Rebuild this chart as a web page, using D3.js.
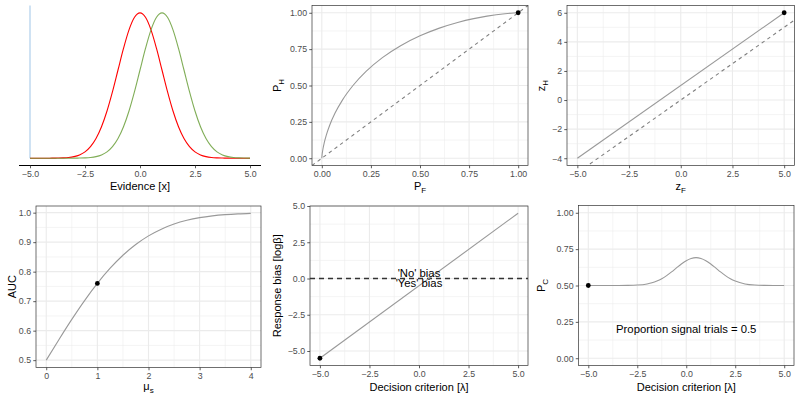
<!DOCTYPE html>
<html>
<head>
<meta charset="utf-8">
<script src="https://cdn.jsdelivr.net/npm/d3@7"></script>
<style>
body { margin: 0; background: #fff; }
text { font-family: "Liberation Sans", Arial, sans-serif; }
</style>
</head>
<body>
<script>
// ---- data ----
var criterion = -5;

var evidence = [-5, -4.75, -4.5, -4.25, -4, -3.75, -3.5, -3.25, -3, -2.75, -2.5, -2.25, -2, -1.75, -1.5, -1.25, -1,
    -0.75, -0.5, -0.25, 0, 0.25, 0.5, 0.75, 1, 1.25, 1.5, 1.75, 2, 2.25, 2.5, 2.75, 3, 3.25, 3.5, 3.75, 4, 4.25, 4.5, 4.75, 5];
var noiseDensity = [0, 0, 0, 0, 0.0001, 0.0004, 0.0009, 0.0020, 0.0044, 0.0091, 0.0175, 0.0317, 0.0540, 0.0863, 0.1295,
    0.1826, 0.2420, 0.3011, 0.3521, 0.3867, 0.3989, 0.3867, 0.3521, 0.3011, 0.2420, 0.1826, 0.1295, 0.0863, 0.0540,
    0.0317, 0.0175, 0.0091, 0.0044, 0.0020, 0.0009, 0.0004, 0.0001, 0, 0, 0, 0];
var signalDensity = [0, 0, 0, 0, 0, 0, 0, 0, 0.0001, 0.0004, 0.0009, 0.0020, 0.0044, 0.0091, 0.0175, 0.0317, 0.0540,
    0.0863, 0.1295, 0.1826, 0.2420, 0.3011, 0.3521, 0.3867, 0.3989, 0.3867, 0.3521, 0.3011, 0.2420, 0.1826, 0.1295,
    0.0863, 0.0540, 0.0317, 0.0175, 0.0091, 0.0044, 0.0020, 0.0009, 0.0004, 0.0001];

var rocFalseAlarm = [0, 0.00003, 0.0002, 0.0006, 0.0013, 0.0030, 0.0062, 0.0122, 0.0228, 0.0401, 0.0668, 0.1056, 0.1587,
    0.2266, 0.3085, 0.4013, 0.5000, 0.5987, 0.6915, 0.7734, 0.8413, 0.9332, 0.9772, 0.9938, 0.9987, 1];
var rocHit = [0, 0.0013, 0.0062, 0.0122, 0.0228, 0.0401, 0.0668, 0.1056, 0.1587, 0.2266, 0.3085, 0.4013, 0.5000,
    0.5987, 0.6915, 0.7734, 0.8413, 0.8944, 0.9332, 0.9599, 0.9772, 0.9938, 0.9987, 0.9998, 1.0000, 1];
var rocPoint = [1, 1];

var zFalseAlarm = [-5, 5];
var zHit = [-4, 6];
var zPoint = [5, 6];

var muS = [0, 0.25, 0.5, 0.75, 1, 1.25, 1.5, 1.75, 2, 2.25, 2.5, 2.75, 3, 3.25, 3.5, 3.75, 4];
var auc = [0.5, 0.5702, 0.6382, 0.7020, 0.7602, 0.8116, 0.8556, 0.8920, 0.9214, 0.9442, 0.9615, 0.9741, 0.9831,
    0.9892, 0.9933, 0.9960, 0.9977];
var aucPoint = [1, 0.7602];

var biasCriterion = [-5, 5];
var logBeta = [-5.5, 4.5];
var biasPoint = [-5, -5.5];

var pcCriterion = [-5, -4.5, -4, -3.5, -3, -2.5, -2, -1.75, -1.5, -1.25, -1, -0.75, -0.5, -0.25, 0, 0.25, 0.5, 0.75,
    1, 1.25, 1.5, 1.75, 2, 2.25, 2.5, 3, 3.5, 4, 4.5, 5];
var propCorrect = [0.5, 0.5, 0.5, 0.5001, 0.5007, 0.5030, 0.5107, 0.5183, 0.5303, 0.5467, 0.5680, 0.5933, 0.6209,
    0.6478, 0.6707, 0.6860, 0.6915, 0.6860, 0.6707, 0.6478, 0.6209, 0.5933, 0.5680, 0.5467, 0.5303, 0.5107, 0.5030,
    0.5007, 0.5001, 0.5];
var pcPoint = [-5, 0.5];

var critTicks = [-5, -2.5, 0, 2.5, 5];
var probTicks = [0, 0.25, 0.5, 0.75, 1];

// ---- drawing ----
var svg = d3.select("body").append("svg").attr("width", 800).attr("height", 400);

var grey = "#999999";
var clipId = 0;

function zip(a, b) {
    return a.map(function (d, i) { return [d, b[i]]; });
}

// minor breaks halfway between the major ones, kept inside the limits
function minors(ticks, dom) {
    var out = [];
    var step = ticks[1] - ticks[0];
    var all = [ticks[0] - step].concat(ticks, [ticks[ticks.length - 1] + step]);
    for (var i = 0; i < all.length - 1; i++) {
        var m = (all[i] + all[i + 1]) / 2;
        if (m >= dom[0] && m <= dom[1]) out.push(m);
    }
    return out;
}

function styleAxis(ax) {
    ax.select(".domain").remove();
    ax.selectAll(".tick line").attr("stroke", "#333").attr("stroke-width", 0.8);
    ax.selectAll(".tick text").attr("fill", "#4d4d4d").style("font-size", "8.8px")
        .style("font-family", "'Liberation Sans', Arial, sans-serif");
}

function bwPanel(box, xdom, ydom, xt, yt, xfmt, yfmt) {
    var x = d3.scaleLinear().domain(xdom).range([box.l, box.r]);
    var y = d3.scaleLinear().domain(ydom).range([box.b, box.t]);
    var g = svg.append("g");

    var grid = g.append("g");
    grid.selectAll(".mx").data(minors(xt, xdom)).enter().append("line")
        .attr("x1", x).attr("x2", x).attr("y1", box.t).attr("y2", box.b)
        .attr("stroke", "#ebebeb").attr("stroke-width", 0.55);
    grid.selectAll(".my").data(minors(yt, ydom)).enter().append("line")
        .attr("y1", y).attr("y2", y).attr("x1", box.l).attr("x2", box.r)
        .attr("stroke", "#ebebeb").attr("stroke-width", 0.55);
    grid.selectAll(".gx").data(xt).enter().append("line")
        .attr("x1", x).attr("x2", x).attr("y1", box.t).attr("y2", box.b)
        .attr("stroke", "#ebebeb").attr("stroke-width", 1.1);
    grid.selectAll(".gy").data(yt).enter().append("line")
        .attr("y1", y).attr("y2", y).attr("x1", box.l).attr("x2", box.r)
        .attr("stroke", "#ebebeb").attr("stroke-width", 1.1);

    var id = "clip" + (clipId++);
    svg.append("clipPath").attr("id", id).append("rect")
        .attr("x", box.l).attr("y", box.t).attr("width", box.r - box.l).attr("height", box.b - box.t);
    var plot = g.append("g").attr("clip-path", "url(#" + id + ")");

    g.append("rect").attr("x", box.l).attr("y", box.t)
        .attr("width", box.r - box.l).attr("height", box.b - box.t)
        .attr("fill", "none").attr("stroke", "#333").attr("stroke-width", 0.7);

    var ax = g.append("g").attr("transform", "translate(0," + box.b + ")")
        .call(d3.axisBottom(x).tickValues(xt).tickFormat(xfmt).tickSize(2.75).tickPadding(2.2));
    styleAxis(ax);
    var ay = g.append("g").attr("transform", "translate(" + box.l + ",0)")
        .call(d3.axisLeft(y).tickValues(yt).tickFormat(yfmt).tickSize(2.75).tickPadding(2.2));
    styleAxis(ay);

    return { g: g, plot: plot, x: x, y: y, box: box };
}

function title(g, main, sub, px, py, rotate) {
    var t = g.append("text").attr("font-size", "11px").attr("fill", "#000")
        .attr("text-anchor", "middle");
    if (rotate) t.attr("transform", "translate(" + px + "," + py + ") rotate(-90)");
    else t.attr("x", px).attr("y", py);
    t.append("tspan").text(main);
    if (sub) t.append("tspan").attr("font-size", "8px").attr("dy", 3).text(sub);
}

function drawLine(p, xs, ys, opts) {
    var line = d3.line()
        .x(function (d) { return p.x(d[0]); })
        .y(function (d) { return p.y(d[1]); })
        .curve(opts.curve || d3.curveLinear);
    p.plot.append("path").datum(zip(xs, ys))
        .attr("d", line).attr("fill", "none")
        .attr("stroke", opts.color).attr("stroke-width", opts.width || 1.1)
        .attr("stroke-opacity", opts.opacity || 1)
        .attr("stroke-dasharray", opts.dash || null);
}

function drawPoint(p, pt) {
    p.g.append("circle").attr("cx", p.x(pt[0])).attr("cy", p.y(pt[1])).attr("r", 2.4).attr("fill", "#000");
}

function identity(p, opts) {
    var d = p.x.domain();
    drawLine(p, d, d, opts);
}

var f2 = d3.format(".2f"), f1 = d3.format(".1f"), f0 = d3.format("d");

// Panel 1: evidence distributions
(function () {
    var box = { l: 19, r: 261, t: 5.5, b: 165.5 };
    var x = d3.scaleLinear().domain([-5.5, 5.5]).range([box.l, box.r]);
    var y = d3.scaleLinear().domain([-0.02, 0.419]).range([box.b, box.t]);
    var g = svg.append("g");
    var p = { g: g, plot: g, x: x, y: y };

    g.append("line").attr("x1", x(criterion)).attr("x2", x(criterion))
        .attr("y1", box.t).attr("y2", y(0))
        .attr("stroke", "#c3dbf0").attr("stroke-width", 1.6);
    drawLine(p, evidence, noiseDensity, { color: "#ff0000", curve: d3.curveMonotoneX });
    drawLine(p, evidence, signalDensity, { color: "#6a9f3a", curve: d3.curveMonotoneX, opacity: 0.85 });

    g.append("line").attr("x1", box.l).attr("x2", box.r).attr("y1", box.b).attr("y2", box.b)
        .attr("stroke", "#000").attr("stroke-width", 1.1);
    var ax = g.append("g").attr("transform", "translate(0," + box.b + ")")
        .call(d3.axisBottom(x).tickValues(critTicks).tickFormat(f1).tickSize(2.75).tickPadding(2.2));
    styleAxis(ax);
    title(g, "Evidence [x]", null, (box.l + box.r) / 2, 190);
})();

// Panel 2: ROC
(function () {
    var p = bwPanel({ l: 312, r: 528, t: 5.5, b: 165.5 }, [-0.05, 1.05], [-0.05, 1.05], probTicks, probTicks, f2, f2);
    identity(p, { color: "#7f7f7f", dash: "3.5,3.5" });
    drawLine(p, rocFalseAlarm, rocHit, { color: grey, curve: d3.curveMonotoneX });
    drawPoint(p, rocPoint);
    title(p.g, "P", "F", (p.box.l + p.box.r) / 2, 190);
    title(p.g, "P", "H", 281, (p.box.t + p.box.b) / 2, true);
})();

// Panel 3: zROC
(function () {
    var p = bwPanel({ l: 567, r: 794.5, t: 5.5, b: 165.5 }, [-5.5, 5.5], [-4.5, 6.5], critTicks, [-4, -2, 0, 2, 4, 6], f1, f0);
    identity(p, { color: "#7f7f7f", dash: "3.5,3.5" });
    drawLine(p, zFalseAlarm, zHit, { color: grey });
    drawPoint(p, zPoint);
    title(p.g, "z", "F", (p.box.l + p.box.r) / 2, 190);
    title(p.g, "z", "H", 545, (p.box.t + p.box.b) / 2, true);
})();

// Panel 4: AUC
(function () {
    var p = bwPanel({ l: 36, r: 261, t: 206, b: 367.5 }, [-0.2, 4.2], [0.4751, 1.0226], [0, 1, 2, 3, 4],
        [0.5, 0.6, 0.7, 0.8, 0.9, 1.0], f0, f1);
    drawLine(p, muS, auc, { color: grey, curve: d3.curveMonotoneX });
    drawPoint(p, aucPoint);
    title(p.g, "\u03bc", "s", (p.box.l + p.box.r) / 2, 390);
    title(p.g, "AUC", null, 15.5, (p.box.t + p.box.b) / 2, true);
})();

// Panel 5: response bias
(function () {
    var p = bwPanel({ l: 310, r: 528, t: 206, b: 365.5 }, [-5.5, 5.5], [-6, 5], critTicks, [-5, -2.5, 0, 2.5, 5], f1, f1);
    var d = p.x.domain();
    drawLine(p, d, [0, 0], { color: "#333", width: 1.3, dash: "5,4" });
    drawLine(p, biasCriterion, logBeta, { color: grey });
    drawPoint(p, biasPoint);
    p.g.append("text").attr("x", p.x(0)).attr("y", p.y(0) - 2).attr("text-anchor", "middle")
        .attr("font-size", "11.3px").text("'No' bias");
    p.g.append("text").attr("x", p.x(0)).attr("y", p.y(0) + 8).attr("text-anchor", "middle")
        .attr("font-size", "11.3px").text("'Yes' bias");
    title(p.g, "Decision criterion [\u03bb]", null, (p.box.l + p.box.r) / 2, 391);
    title(p.g, "Response bias [log\u03b2]", null, 281, (p.box.t + p.box.b) / 2, true);
})();

// Panel 6: proportion correct
(function () {
    var p = bwPanel({ l: 578.5, r: 794, t: 205.5, b: 365.5 }, [-5.5, 5.5], [-0.05, 1.05], critTicks, probTicks, f1, f2);
    drawLine(p, pcCriterion, propCorrect, { color: grey, curve: d3.curveMonotoneX });
    drawPoint(p, pcPoint);
    p.g.append("text").attr("x", p.x(0)).attr("y", p.y(0.2) + 4).attr("text-anchor", "middle")
        .attr("font-size", "11.3px").text("Proportion signal trials = 0.5");
    title(p.g, "Decision criterion [\u03bb]", null, (p.box.l + p.box.r) / 2, 391);
    title(p.g, "P", "C", 545, (p.box.t + p.box.b) / 2, true);
})();
</script>
</body>
</html>
